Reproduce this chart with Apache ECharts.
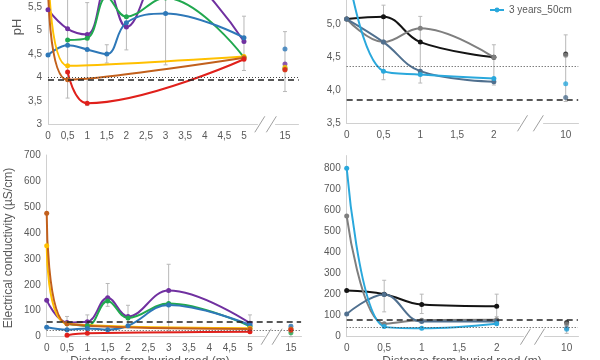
<!DOCTYPE html>
<html><head><meta charset="utf-8">
<script src="https://cdn.jsdelivr.net/npm/echarts@6/dist/echarts.min.js"></script>
<style>html,body{margin:0;padding:0;background:#fff}#c{width:600px;height:360px}</style>
</head><body><div id="c"></div>
<script>
// ---------- data ----------
const xNearL = [0, 0.5, 1, 1.5, 2, 3, 5];   // distance from buried road (m), left panels
const xFarL = 15;
const xNearR = [0, 0.5, 1, 2];              // right panels
const xFarR = 10;

// pH, left panel (purple, green, blue, yellow, brown, red)
const phPurple = [5.45, 5.04, 4.92, 6.0, 5.08, 6.4, 4.77];
const phGreen  = [null, 4.80, 4.84, 5.72, 5.30, 5.70, 4.43];
const phBlue   = [4.48, 4.69, 4.60, 4.50, 5.17, 5.37, 4.85];
const phYellow = [6.7, 4.25, null, null, null, null, 4.45];
const phBrown  = [6.1, 3.95, null, null, null, null, 4.42];
const phRed    = [null, 4.12, 3.45, null, null, null, 4.39];
const phFarL   = [4.29, 4.20, 4.61, 4.22, 4.16, 4.17];

// EC, left panel
const ecPurple = [140, 55, 58, 150, 78, 178, 52];
const ecGreen  = [null, 50, 42, 138, 72, 128, 40];
const ecBlue   = [36, 27, 32, 27, 42, 122, 45];
const ecYellow = [350, 50, null, null, null, null, 33];
const ecBrown  = [476, 50, null, null, null, null, 30];
const ecRed    = [null, 6, 13, null, null, null, 19];
const ecFarL   = [30, 15, 40, 28, 30, 25];

// pH, right panel (black, gray, slate, cyan)
const phBlack = [5.08, 5.115, 4.73, 4.50];
const phGray  = [5.08, 4.73, 4.94, 4.50];
const phSlate = [5.08, 4.73, 4.29, 4.13];
const phCyan  = [5.9, 4.29, 4.24, 4.18];
const phFarR  = [4.55, 4.53, 3.89, 4.10];

// EC, right panel
const ecBlack = [219, 202, 153, 145];
const ecGray  = [573, 62, 78, 80];
const ecSlate = [108, 200, 72, 72];
const ecCyan  = [800, 48, 40, 62];
const ecFarR  = [68, 60, 40, 35];

// error bars
const ebTLx = [0.5, 1, 1.5, 2, 3, 5, 15];
const ebTLlo = [3.56, 3.40, 4.31, 4.59, 4.27, 4.15, 3.70];
const ebTLhi = [5.90, 5.60, 4.70, 5.80, 5.90, 5.31, 4.98];
const ebTRx = [0.5, 1, 2, 10];
const ebTRlo = [4.16, 4.11, 4.08, 3.83];
const ebTRhi = [5.29, 5.12, 4.69, 4.84];
const ebBLx = [0.5, 1, 1.5, 2, 3, 5, 15];
const ebBLlo = [13, 13, 117, 45, 19, 19, 0];
const ebBLhi = [78, 84, 205, 121, 279, 84, 45];
const ebBRx = [0.5, 1, 2, 10];
const ebBRlo = [118, 110, 95, 16];
const ebBRhi = [268, 202, 202, 71];

// reference lines [dashed, dotted]
const refTL = [3.96, 4.0];
const refTR = [3.85, 4.37];
const refBL = [58, 25];
const refBR = [81, 45];

const xTicksL = [0, 0.5, 1, 1.5, 2, 2.5, 3, 3.5, 4, 4.5, 5, 15];
const xTicksR = [0, 0.5, 1, 1.5, 2, 10];
const yTicksTL = [3, 3.5, 4, 4.5, 5, 5.5];
const yTicksTR = [3.5, 4, 4.5, 5];
const yTicksBL = [0, 100, 200, 300, 400, 500, 600, 700];
const yTicksBR = [0, 100, 200, 300, 400, 500, 600, 700, 800];

const namesL = ['purple', 'green', 'blue', 'yellow', 'brown', 'red'];
const namesR = ['1 year_10cm', '1 year_50cm', '3 years_10cm', '3 years_50cm'];

// ---------- styles ----------
const colL = ['#7030A0', '#21A84F', '#2E78B8', '#FFC000', '#C2601C', '#E0201B'];
const colR = ['#141414', '#7F7F7F', '#50708F', '#2AA8DC'];
const FONT = 'Liberation Sans';
const LBL = '#595959';

const panels = [
  {grid: {left: 48, top: -16.1, width: 250.7, height: 140.4}, xmin: 0, xmax: 15.35, brk: [5.35, 14.75, 0.446],
   ymin: 3, ymax: 6, yint: 0.5, yfmt: v => String(v).replace('.', ','), xt: xTicksL, yt: yTicksTL,
   xs: xNearL, far: xFarL, ys: [phPurple, phGreen, phBlue, phYellow, phBrown, phRed], farY: phFarL, cols: colL, names: namesL,
   eb: [ebTLx, ebTLlo, ebTLhi], ref: refTL},
  {grid: {left: 346.7, top: -8.7, width: 231.5, height: 132}, xmin: 0, xmax: 10.17, brk: [2.35, 9.7, 0.326],
   ymin: 3.5, ymax: 5.5, yint: 0.5, yfmt: v => v.toFixed(1).replace('.', ','), xt: xTicksR, yt: yTicksTR,
   xs: xNearR, far: xFarR, ys: [phBlack, phGray, phSlate, phCyan], farY: phFarR, cols: colR, names: namesR,
   eb: [ebTRx, ebTRlo, ebTRhi], ref: refTR},
  {grid: {left: 46.7, top: 155, width: 254.4, height: 181.7}, xmin: 0, xmax: 15.25, brk: [5.35, 14.75, 0.408],
   ymin: 0, ymax: 700, yint: 100, yfmt: v => String(v), xt: xTicksL, yt: yTicksBL,
   xs: xNearL, far: xFarL, ys: [ecPurple, ecGreen, ecBlue, ecYellow, ecBrown, ecRed], farY: ecFarL, cols: colL, names: namesL,
   eb: [ebBLx, ebBLlo, ebBLhi], ref: refBL},
  {grid: {left: 346.7, top: 155.6, width: 231.2, height: 181.1}, xmin: 0, xmax: 10.15, brk: [2.35, 9.7, 0.283],
   ymin: 0, ymax: 860, yint: 100, yfmt: v => String(v), xt: xTicksR, yt: yTicksBR,
   xs: xNearR, far: xFarR, ys: [ecBlack, ecGray, ecSlate, ecCyan], farY: ecFarR, cols: colR, names: namesR,
   eb: [ebBRx, ebBRlo, ebBRhi], ref: refBR}
];

const grids = [], xAxes = [], yAxes = [], series = [];
panels.forEach((p, i) => {
  grids.push(Object.assign({containLabel: false, outerBoundsMode: 'none'}, p.grid));
  xAxes.push({
    type: 'value', gridIndex: i, min: p.xmin, max: p.xmax,
    breaks: [{start: p.brk[0], end: p.brk[1], gap: p.brk[2]}],
    breakArea: {show: false},
    axisLine: {show: true, onZero: false, lineStyle: {color: '#D0D0D0', width: 1}},
    axisTick: {show: false}, splitLine: {show: false},
    axisLabel: {customValues: p.xt, color: LBL, fontFamily: FONT, fontSize: 10, margin: 7,
      formatter: v => String(v).replace('.', ',')}
  });
  yAxes.push({
    type: 'value', gridIndex: i, min: p.ymin, max: p.ymax, interval: p.yint,
    axisLine: {show: true, onZero: false, lineStyle: {color: '#D0D0D0', width: 1}},
    axisTick: {show: false}, splitLine: {show: false},
    axisLabel: {customValues: p.yt, color: LBL, fontFamily: FONT, fontSize: 10, margin: 6, formatter: p.yfmt,
      showMinLabel: true, hideOverlap: false}
  });
  // error bars
  series.push({
    type: 'custom', xAxisIndex: i, yAxisIndex: i, silent: true, z: 1,
    data: p.eb[0].map((x, k) => [x, p.eb[1][k], p.eb[2][k]]),
    encode: {x: 0, y: [1, 2]},
    renderItem: (params, api) => {
      const x = api.value(0);
      const lo = api.coord([x, api.value(1)]);
      const hi = api.coord([x, api.value(2)]);
      const st = {stroke: '#B8B8B8', lineWidth: 1};
      return {type: 'group', children: [
        {type: 'line', shape: {x1: lo[0], y1: lo[1], x2: hi[0], y2: hi[1]}, style: st},
        {type: 'line', shape: {x1: lo[0] - 2, y1: lo[1], x2: lo[0] + 2, y2: lo[1]}, style: st},
        {type: 'line', shape: {x1: hi[0] - 2, y1: hi[1], x2: hi[0] + 2, y2: hi[1]}, style: st}
      ]};
    }
  });
  p.ys.forEach((ys, k) => {
    const s = {
      type: 'line', name: p.names[k], xAxisIndex: i, yAxisIndex: i, smooth: 0.4,
      data: p.xs.map((x, j) => [x, ys[j]]).filter(d => d[1] !== null),
      symbol: 'circle', symbolSize: 5, showSymbol: true,
      lineStyle: {color: p.cols[k], width: 2}, itemStyle: {color: p.cols[k]}, z: 3,
      animation: false
    };
    if (k === 0) {
      s.markLine = {silent: true, symbol: 'none', label: {show: false}, animation: false,
        data: [
          {yAxis: p.ref[0], lineStyle: {type: [6, 4], color: '#222', width: 1.5}},
          {yAxis: p.ref[1], lineStyle: {type: [1, 2], color: '#444', width: 1}}
        ]};
    }
    series.push(s);
    series.push({
      type: 'scatter', name: p.names[k], xAxisIndex: i, yAxisIndex: i,
      data: [[p.far, p.farY[k]]], symbol: 'circle', symbolSize: 5,
      itemStyle: {color: p.cols[k]}, z: 4, animation: false
    });
  });
});

const texts = [
  {type: 'text', x: 17, y: 27, rotation: Math.PI / 2,
   style: {text: 'pH', fontSize: 13, fontFamily: FONT, fill: LBL, align: 'center', verticalAlign: 'middle'}},
  {type: 'text', x: 9, y: 248, rotation: Math.PI / 2,
   style: {text: 'Electrical conductivity (µS/cm)', fontSize: 12, fontFamily: FONT, fill: LBL, align: 'center', verticalAlign: 'middle'}},
  {type: 'text', x: 150, y: 362,
   style: {text: 'Distance from buried road (m)', fontSize: 12, fontFamily: FONT, fill: LBL, align: 'center', verticalAlign: 'middle'}},
  {type: 'text', x: 462, y: 362,
   style: {text: 'Distance from buried road (m)', fontSize: 12, fontFamily: FONT, fill: LBL, align: 'center', verticalAlign: 'middle'}}
];

const chart = echarts.init(document.getElementById('c'));
chart.setOption({
  animation: false,
  backgroundColor: '#fff',
  grid: grids, xAxis: xAxes, yAxis: yAxes, series: series,
  legend: {data: ['3 years_50cm'], left: 484, top: 0, itemWidth: 14, itemHeight: 6, itemGap: 4,
    textStyle: {fontFamily: FONT, fontSize: 10, color: LBL}, selectedMode: false},
  graphic: texts
});

// break marks on the x axes
const marks = [];
panels.forEach((p, i) => {
  const a = chart.convertToPixel({xAxisIndex: i}, p.brk[0]);
  const b = chart.convertToPixel({xAxisIndex: i}, p.brk[1]);
  const y = chart.convertToPixel({yAxisIndex: i}, p.ymin);
  const w = b - a;
  const c1 = a + 0.12 * w, c2 = a + 0.78 * w;
  marks.push({type: 'rect', shape: {x: c1, y: y - 2, width: c2 - c1, height: 4}, style: {fill: '#fff'}, z: 50});
  [c1, c2].forEach(c => marks.push({type: 'line', shape: {x1: c - 5, y1: y + 8, x2: c + 5, y2: y - 8},
    style: {stroke: '#A0A0A0', lineWidth: 1}, z: 51}));
});
chart.setOption({graphic: texts.concat(marks)});
</script>
</body></html>
